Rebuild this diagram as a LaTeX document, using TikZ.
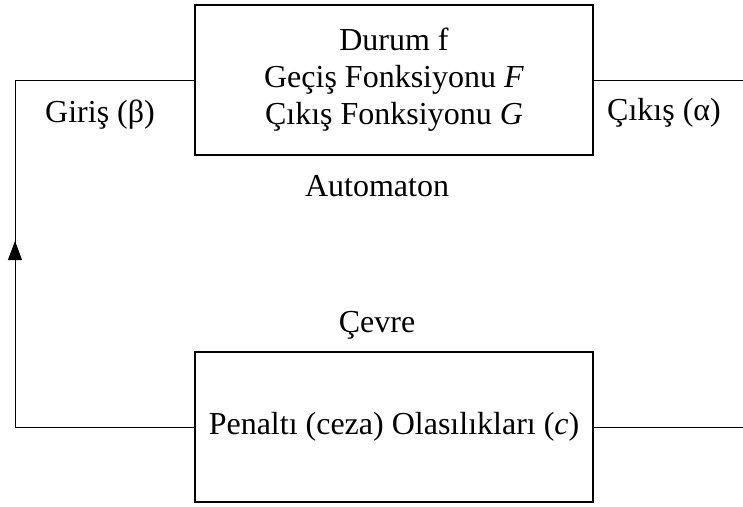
\documentclass[tikz,border=0pt]{standalone}
\usepackage{fontspec}
\setmainfont{Liberation Serif}
\usetikzlibrary{arrows.meta}
\begin{document}
\begin{tikzpicture}[x=1pt,y=1pt,
  every node/.style={font=\fontsize{32}{37}\selectfont, inner sep=0pt},
  block/.style={draw, line width=1.5pt, minimum width=398pt, minimum height=150pt, align=center},
  wire/.style={line width=0.9pt},
  label/.style={anchor=base}]
  \useasboundingbox (0,0) rectangle (743,-506);
  % automaton and environment blocks
  \node[block] (auto) at (394,-80) {Durum f\\Geçiş Fonksiyonu \textit{F}\\Çıkış Fonksiyonu \textit{G}};
  \node[block] (env) at (394,-427) {Penaltı (ceza) Olasılıkları (\textit{c})};
  % captions
  \node[label] (gir) at (100,-122) {Giriş (β)};
  \node[label] (cik) at (664,-120) {Çıkış (α)};
  \node[label] (autol) at (377,-196) {Automaton};
  \node[label] (envl) at (377,-332) {Çevre};
  % feedback loop corners and free ends
  \coordinate (bl) at (15,-427);
  \coordinate (tl) at (15,-80);
  \coordinate (arrbase) at (15,-300);
  \coordinate (arrtip) at (15,-241);
  \coordinate (outtop) at (743,-80);
  \coordinate (outbot) at (743,-427);
  \draw[wire] (env.west) -- (bl) -- (tl) -- (auto.west);
  \draw[wire, -{Triangle[length=19pt,width=14pt]}] (arrbase) -- (arrtip);
  \draw[wire] (auto.east) -- (outtop);
  \draw[wire] (env.east) -- (outbot);
\end{tikzpicture}
\end{document}
